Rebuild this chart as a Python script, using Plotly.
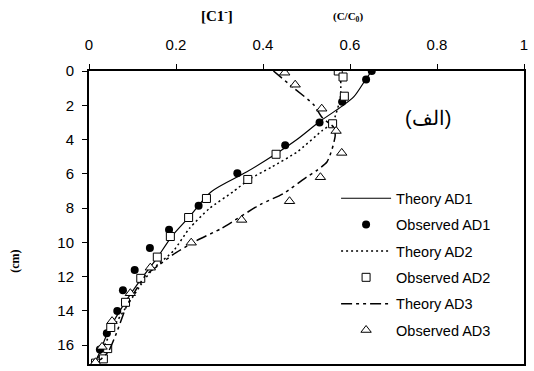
import plotly.graph_objects as go

# ---- data (concentration C/C0 vs depth cm) ----
theory_ad1_x = [0.650, 0.636, 0.609, 0.582, 0.532, 0.478, 0.430, 0.362, 0.281, 0.231, 0.190, 0.155, 0.121, 0.083, 0.044, 0.025, 0.012]
theory_ad1_y = [0.0, 0.5, 1.5, 2.05, 2.92, 4.0, 4.83, 5.9, 7.05, 8.5, 9.66, 10.97, 12.1, 13.5, 15.2, 16.4, 17.1]

obs_ad1_x = [0.650, 0.637, 0.582, 0.530, 0.451, 0.341, 0.252, 0.184, 0.140, 0.105, 0.078, 0.065, 0.041, 0.025]
obs_ad1_y = [0.0, 0.5, 1.8, 3.0, 4.33, 5.97, 7.86, 9.27, 10.33, 11.62, 12.8, 14.0, 15.3, 16.25]

theory_ad2_x = [0.578, 0.578, 0.560, 0.535, 0.478, 0.420, 0.370, 0.331, 0.277, 0.231, 0.194, 0.147, 0.124, 0.090, 0.055, 0.030, 0.012]
theory_ad2_y = [0.0, 1.5, 3.0, 3.5, 4.73, 5.6, 6.3, 7.05, 8.02, 9.18, 10.5, 11.55, 12.3, 13.6, 15.0, 16.3, 17.1]

obs_ad2_x = [0.573, 0.584, 0.587, 0.560, 0.430, 0.365, 0.270, 0.229, 0.187, 0.157, 0.119, 0.084, 0.050, 0.043, 0.033, 0.015]
obs_ad2_y = [0.0, 0.35, 1.47, 3.08, 4.86, 6.33, 7.44, 8.55, 9.66, 10.86, 12.1, 13.5, 14.97, 16.2, 16.8, 17.05]

theory_ad3_x = [0.424, 0.470, 0.516, 0.536, 0.563, 0.566, 0.559, 0.547, 0.524, 0.501, 0.447, 0.393, 0.305, 0.247, 0.193, 0.162, 0.131, 0.100, 0.085, 0.063, 0.044, 0.015]
theory_ad3_y = [0.0, 0.98, 1.95, 2.72, 3.3, 3.77, 4.54, 5.31, 5.8, 6.18, 7.15, 7.8, 9.18, 9.9, 10.72, 11.3, 11.9, 13.1, 13.8, 15.3, 16.4, 17.1]

obs_ad3_x = [0.450, 0.474, 0.535, 0.568, 0.581, 0.532, 0.461, 0.351, 0.235, 0.141, 0.095, 0.053, 0.030, 0.015]
obs_ad3_y = [0.1, 0.8, 2.2, 3.5, 4.78, 6.2, 7.6, 8.69, 10.02, 11.48, 12.97, 14.6, 16.1, 17.0]

x_ticks = [0, 0.2, 0.4, 0.6, 0.8, 1]
y_ticks = [0, 2, 4, 6, 8, 10, 12, 14, 16]

FONT = "Arial, Liberation Sans, sans-serif"
SERIF = "Times New Roman, Liberation Serif, serif"

fig = go.Figure()

fig.add_trace(go.Scatter(x=theory_ad1_x, y=theory_ad1_y, mode="lines", name="Theory AD1",
                         line=dict(color="black", width=1.2, shape="spline", smoothing=0.8),
                         legendgroup="a"))
fig.add_trace(go.Scatter(x=obs_ad1_x, y=obs_ad1_y, mode="markers", name="Observed AD1",
                         marker=dict(symbol="circle", size=8, color="black"),
                         legendgroup="b"))
fig.add_trace(go.Scatter(x=theory_ad2_x, y=theory_ad2_y, mode="lines", name="Theory AD2",
                         line=dict(color="black", width=1.5, dash="2px,3px", shape="spline", smoothing=0.6),
                         legendgroup="c"))
fig.add_trace(go.Scatter(x=obs_ad2_x, y=obs_ad2_y, mode="markers", name="Observed AD2",
                         marker=dict(symbol="square", size=8, color="white", line=dict(color="black", width=1)),
                         legendgroup="d"))
fig.add_trace(go.Scatter(x=theory_ad3_x, y=theory_ad3_y, mode="lines", name="Theory AD3",
                         line=dict(color="black", width=1.5, dash="11px,4px,3px,4px,3px,4px", shape="spline", smoothing=0.6),
                         legendgroup="e"))
fig.add_trace(go.Scatter(x=obs_ad3_x, y=obs_ad3_y, mode="markers", name="Observed AD3",
                         marker=dict(symbol="triangle-up", size=9, color="white", line=dict(color="black", width=1)),
                         legendgroup="f"))

fig.update_layout(
    width=534, height=371,
    margin=dict(l=89, r=10, t=71, b=5),
    paper_bgcolor="white", plot_bgcolor="white",
    font=dict(family=FONT, size=15, color="black"),
    showlegend=True,
    legend=dict(x=0.568, y=0.62, xanchor="left", yanchor="top",
                bgcolor="rgba(0,0,0,0)", font=dict(size=14.5, family=FONT),
                itemwidth=50, tracegroupgap=4.5, traceorder="grouped"),
    xaxis=dict(side="top", range=[0, 1], tickvals=x_ticks, ticktext=[str(v) for v in x_ticks],
               ticks="outside", ticklen=5, tickcolor="black", showgrid=False, zeroline=False,
               showline=True, linecolor="black", linewidth=2, mirror=True,
               tickfont=dict(size=15), ticklabelstandoff=8),
    yaxis=dict(range=[17.1, 0], tickvals=y_ticks, ticks="outside", ticklen=5, tickcolor="black",
               showgrid=False, zeroline=False, showline=True, linecolor="black", linewidth=2,
               mirror=True, tickfont=dict(size=15), ticklabelstandoff=5),
    annotations=[
        dict(text="<b>[C1<sup>-</sup>]</b>", x=0.294, y=1.19, xref="paper", yref="paper",
             showarrow=False, font=dict(family=SERIF, size=15), xanchor="center", yanchor="middle"),
        dict(text="<b>(C/C<sub>0</sub>)</b>", x=0.595, y=1.186, xref="paper", yref="paper",
             showarrow=False, font=dict(family=SERIF, size=11), xanchor="center", yanchor="middle"),
        dict(text="<b>(cm)</b>", x=-0.17, y=0.349, xref="paper", yref="paper", textangle=-90,
             showarrow=False, font=dict(family=SERIF, size=12), xanchor="center", yanchor="middle"),
        dict(text="(الف)", x=0.779, y=0.84, xref="paper", yref="paper",
             showarrow=False, font=dict(family=FONT, size=20), xanchor="center", yanchor="middle"),
    ],
)

fig.write_html("out.html")
